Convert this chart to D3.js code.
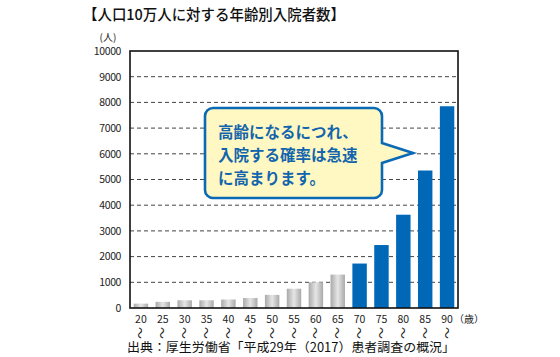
<!DOCTYPE html>
<html><head><meta charset="utf-8">
<script src="https://cdn.jsdelivr.net/npm/d3@7"></script>
<style>
body{margin:0;background:#fff;}
text{font-family:"Noto Sans CJK JP","Noto Sans",sans-serif;}
</style></head>
<body><svg id="c" width="560" height="357"></svg>
<script>
const ages = ["20","25","30","35","40","45","50","55","60","65","70","75","80","85","90"];
const values = [170,240,300,300,330,390,510,750,1000,1300,1730,2450,3630,5350,7850];
const yTicks = [0,1000,2000,3000,4000,5000,6000,7000,8000,9000,10000];
const titleText = "【人口10万人に対する年齢別入院者数】";
const sourceText = "出典：厚生労働省「平成29年（2017）患者調査の概況」";
const calloutLines = ["高齢になるにつれ、","入院する確率は急速","に高まります。"];

const svg = d3.select("#c");
const L=130,R=458,T=51,B=308;
const x = d3.scaleBand().domain(ages).range([L,R]).paddingInner(0.34).paddingOuter(0.17);
const y = d3.scaleLinear().domain([0,10000]).range([B,T]);

const defs = svg.append("defs");
const g = defs.append("linearGradient").attr("id","gray").attr("x1","0").attr("x2","1");
g.append("stop").attr("offset","0").attr("stop-color","#a9a9a9");
g.append("stop").attr("offset","0.5").attr("stop-color","#e6e6e6");
g.append("stop").attr("offset","1").attr("stop-color","#a9a9a9");

// title
svg.append("text").attr("x",83).attr("y",20).attr("font-size",15).attr("font-weight",500)
  .attr("fill","#111").attr("textLength",262).attr("lengthAdjust","spacingAndGlyphs").text(titleText);

// gridlines
svg.append("g").selectAll("line").data(yTicks.filter(d=>d>0&&d<10000)).join("line")
  .attr("x1",L).attr("x2",R).attr("y1",d=>y(d)).attr("y2",d=>y(d))
  .attr("stroke","#444").attr("stroke-width",1).attr("stroke-dasharray","4,3");

// bars
svg.append("g").selectAll("rect").data(ages).join("rect")
  .attr("x",d=>x(d)).attr("width",x.bandwidth())
  .attr("y",(d,i)=>y(values[i])).attr("height",(d,i)=>B-y(values[i]))
  .attr("fill",(d,i)=>i>=10?"#0068b7":"url(#gray)");

// frame
svg.append("rect").attr("x",L).attr("y",T).attr("width",R-L).attr("height",B-T)
  .attr("fill","none").attr("stroke","#111").attr("stroke-width",1.6);

// y axis labels
const ya = d3.axisLeft(y).tickValues(yTicks).tickFormat(d3.format("d")).tickSize(0).tickPadding(9);
const yg = svg.append("g").attr("transform",`translate(${L},0)`).call(ya);
yg.select(".domain").remove();
yg.selectAll("text").attr("font-size",10.5).attr("fill","#222").style("letter-spacing","-0.4px")
  .attr("font-family","'Noto Sans CJK JP',sans-serif");
svg.append("text").attr("x",108).attr("y",41).attr("font-size",10).attr("text-anchor","middle")
  .attr("fill","#222").text("(人)");

// x axis labels
const xa = d3.axisBottom(x).tickSize(0).tickPadding(8);
const xg = svg.append("g").attr("transform",`translate(0,${B})`).call(xa);
xg.select(".domain").remove();
xg.selectAll("text").attr("font-size",10.5).attr("fill","#222").attr("font-family","'Noto Sans CJK JP',sans-serif");
svg.append("g").selectAll("text").data(ages).join("text")
  .attr("transform",d=>`translate(${x(d)+x.bandwidth()/2},${333}) rotate(90)`)
  .attr("text-anchor","middle").attr("dominant-baseline","central")
  .attr("font-size",12).attr("fill","#222").text("〜");
svg.append("text").attr("x",x("90")+x.bandwidth()/2+7).attr("y",323).attr("font-size",10)
  .attr("fill","#222").text("（歳）");

// source
svg.append("text").attr("x",127).attr("y",352).attr("font-size",12.5).attr("fill","#111")
  .attr("textLength",328).attr("lengthAdjust","spacingAndGlyphs").text(sourceText);

// callout
const cx0=205,cx1=382,cy0=108,cy1=198,r=8,tipX=413,tipY=153,pb0=143,pb1=163;
const p = d3.path();
p.moveTo(cx0+r,cy0); p.lineTo(cx1-r,cy0); p.arcTo(cx1,cy0,cx1,cy0+r,r);
p.lineTo(cx1,pb0); p.lineTo(tipX,tipY); p.lineTo(cx1,pb1);
p.lineTo(cx1,cy1-r); p.arcTo(cx1,cy1,cx1-r,cy1,r);
p.lineTo(cx0+r,cy1); p.arcTo(cx0,cy1,cx0,cy1-r,r);
p.lineTo(cx0,cy0+r); p.arcTo(cx0,cy0,cx0+r,cy0,r); p.closePath();
svg.append("path").attr("d",p.toString()).attr("fill","#fff8c2").attr("stroke","#0a6ab5").attr("stroke-width",2.6);
svg.append("g").selectAll("text").data(calloutLines).join("text")
  .attr("x",218).attr("y",(d,i)=>138+i*23).attr("font-size",15.5).attr("font-weight",700)
  .attr("fill","#1265ad").text(d=>d);
</script></body></html>
